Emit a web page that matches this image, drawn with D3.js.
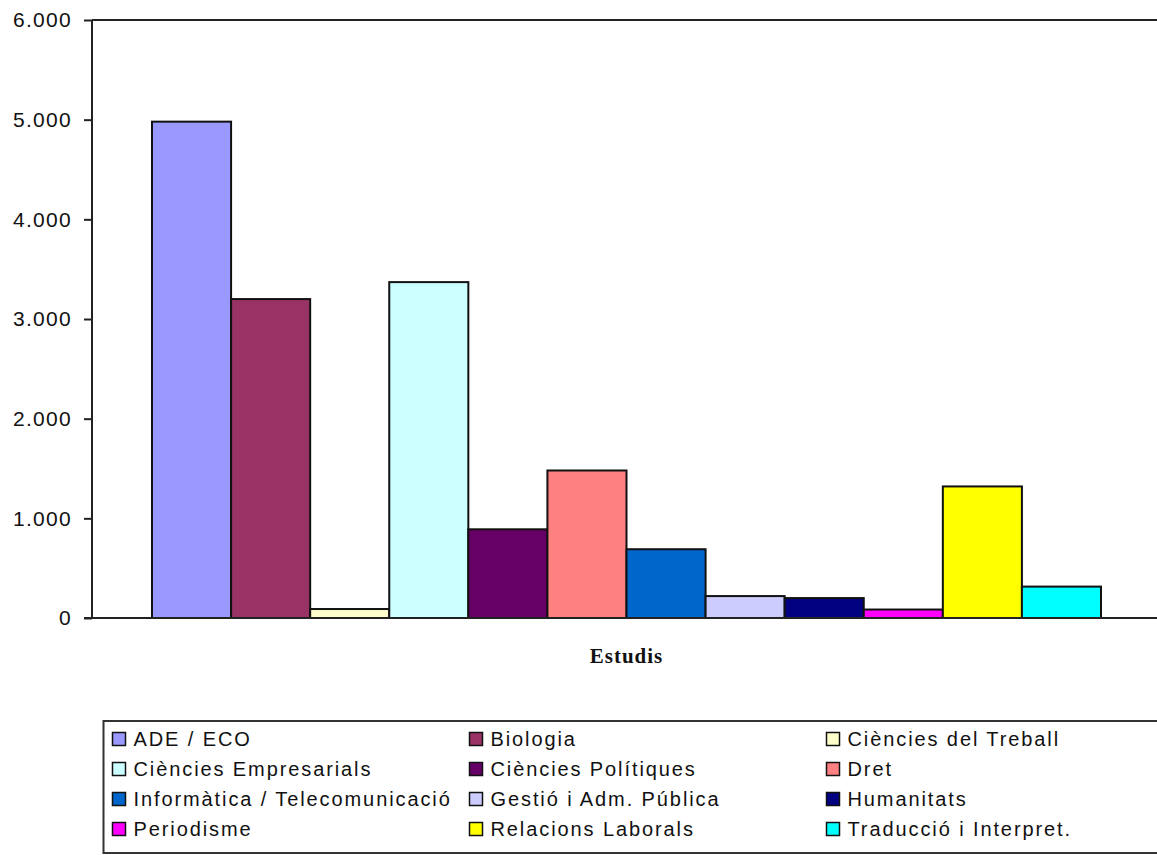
<!DOCTYPE html>
<html>
<head>
<meta charset="utf-8">
<script src="https://cdn.jsdelivr.net/npm/d3@7"></script>
<style>
  html, body { margin: 0; padding: 0; background: #fff; }
  svg { display: block; }
</style>
</head>
<body>
<svg id="chart" width="1157" height="855"></svg>
<script>
const categories = [
  "ADE / ECO", "Biologia", "Ciències del Treball",
  "Ciències Empresarials", "Ciències Polítiques", "Dret",
  "Informàtica / Telecomunicació", "Gestió i Adm. Pública", "Humanitats",
  "Periodisme", "Relacions Laborals", "Traducció i Interpret."
];
const values = [4980, 3200, 90, 3370, 890, 1480, 690, 220, 200, 85, 1320, 315];
const colors = [
  "#9999FF", "#993366", "#FFFFCC",
  "#CCFFFF", "#660066", "#FF8080",
  "#0066CC", "#CCCCFF", "#000080",
  "#FF00FF", "#FFFF00", "#00FFFF"
];
const yTicks = [0, 1000, 2000, 3000, 4000, 5000, 6000];
const xTitle = "Estudis";

const svg = d3.select("#chart");
const plot = { left: 92, right: 1161, top: 20, bottom: 618 };

const locale = d3.formatLocale({ decimal: ",", thousands: ".", grouping: [3], currency: ["", "€"] });
const fmt = locale.format(",d");

const y = d3.scaleLinear().domain([0, 6000]).range([plot.bottom, plot.top]);
const x = d3.scaleBand().domain(categories).range([152, 1101]).padding(0);

// plot frame (top line)
svg.append("line")
  .attr("x1", plot.left).attr("x2", plot.right)
  .attr("y1", plot.top).attr("y2", plot.top)
  .attr("stroke", "#222").attr("stroke-width", 2);

// bars
svg.append("g").selectAll("rect")
  .data(categories)
  .join("rect")
  .attr("x", d => x(d))
  .attr("y", (d, i) => y(values[i]))
  .attr("width", x.bandwidth())
  .attr("height", (d, i) => y(0) - y(values[i]))
  .attr("fill", (d, i) => colors[i])
  .attr("stroke", "#111")
  .attr("stroke-width", 2);

// y axis
const yAxis = d3.axisLeft(y).tickValues(yTicks).tickFormat(fmt).tickSize(8).tickPadding(12);
const gy = svg.append("g").attr("transform", `translate(${plot.left},0)`).call(yAxis);
gy.select(".domain").attr("stroke", "#222").attr("stroke-width", 2).attr("d", `M0,${plot.top}V${plot.bottom}`);
gy.selectAll(".tick line").attr("stroke", "#222").attr("stroke-width", 2);
gy.selectAll(".tick text")
  .attr("font-family", "'Liberation Sans', Arial, sans-serif")
  .attr("font-size", 21)
  .attr("letter-spacing", "1.3px")
  .attr("fill", "#111");

// x axis baseline
svg.append("line")
  .attr("x1", plot.left - 8).attr("x2", plot.right)
  .attr("y1", plot.bottom).attr("y2", plot.bottom)
  .attr("stroke", "#222").attr("stroke-width", 2);

// x title
svg.append("text")
  .attr("x", (152 + 1101) / 2).attr("y", 663)
  .attr("text-anchor", "middle")
  .attr("font-family", "'Liberation Serif', 'Times New Roman', serif")
  .attr("font-weight", "bold")
  .attr("font-size", 21)
  .attr("letter-spacing", "1px")
  .attr("fill", "#111")
  .text(xTitle);

// legend
const legend = svg.append("g");
legend.append("rect")
  .attr("x", 103.5).attr("y", 721)
  .attr("width", 1080).attr("height", 132)
  .attr("fill", "#fff").attr("stroke", "#333").attr("stroke-width", 2);

const colX = [112.5, 469.5, 826.5];
const rowY = [739, 769, 799, 829];
const items = legend.selectAll("g.item")
  .data(categories)
  .join("g")
  .attr("class", "item")
  .attr("transform", (d, i) => `translate(${colX[i % 3]},${rowY[Math.floor(i / 3)]})`);
items.append("rect")
  .attr("x", 0).attr("y", -6.5)
  .attr("width", 13).attr("height", 13)
  .attr("fill", (d, i) => colors[i])
  .attr("stroke", "#111").attr("stroke-width", 1.5);
items.append("text")
  .attr("x", 21).attr("y", 0).attr("dy", "0.36em")
  .attr("font-family", "'Liberation Sans', Arial, sans-serif")
  .attr("font-size", 20)
  .attr("letter-spacing", "1.9px")
  .attr("fill", "#111")
  .text(d => d);
</script>
</body>
</html>
